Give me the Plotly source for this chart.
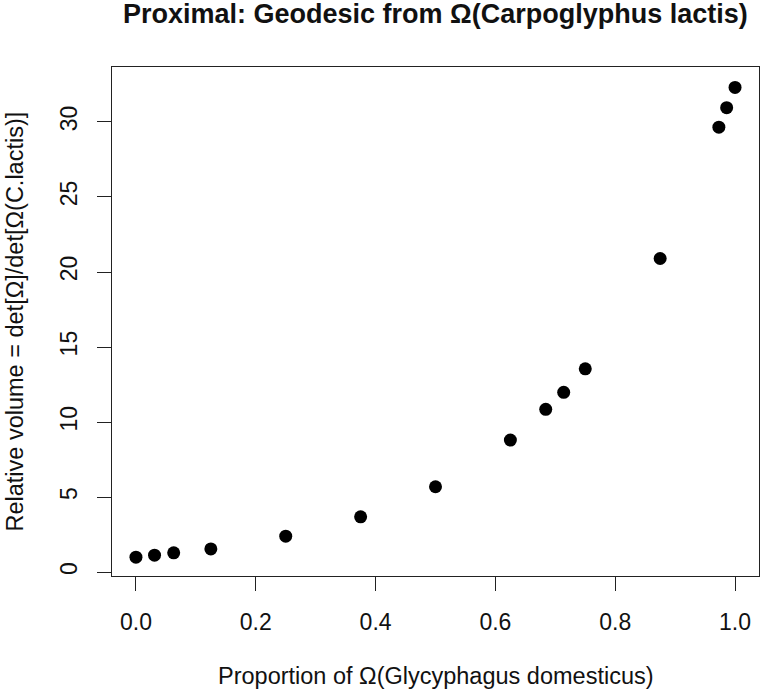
import plotly.graph_objects as go

# Data
proportion = [0.0, 0.031, 0.063, 0.125, 0.25, 0.375, 0.5, 0.625, 0.684, 0.714, 0.75, 0.875, 0.973, 0.986, 1.0]
rel_volume = [1.0, 1.13, 1.29, 1.55, 2.4, 3.69, 5.69, 8.8, 10.85, 11.98, 13.55, 20.9, 29.65, 30.95, 32.3]

x_ticks = [0.0, 0.2, 0.4, 0.6, 0.8, 1.0]
x_tick_labels = ["0.0", "0.2", "0.4", "0.6", "0.8", "1.0"]
y_ticks = [0, 5, 10, 15, 20, 25, 30]
y_tick_labels = ["0", "5", "10", "15", "20", "25", "30"]

title = "Proximal: Geodesic from Ω(Carpoglyphus lactis)"
x_title = "Proportion of Ω(Glycyphagus domesticus)"
y_title = "Relative volume = det[Ω]/det[Ω(C.lactis)]"

FONT = "Liberation Sans, Arial, Helvetica, sans-serif"

fig = go.Figure()
fig.add_trace(go.Scatter(
    x=proportion, y=rel_volume, mode="markers",
    marker=dict(size=13, color="black", line=dict(width=0)),
    showlegend=False, hoverinfo="x+y",
))

W, H = 766, 694
L, R, T, B = 111.5, 7, 67, 118

axis_common = dict(
    showgrid=False, zeroline=False, showline=True, mirror=True,
    linecolor="#222222", linewidth=1.2,
    ticks="outside", ticklen=14, tickwidth=1.2, tickcolor="#222222",
    tickfont=dict(family=FONT, size=23, color="#111111"),
)

fig.update_layout(
    width=W, height=H,
    margin=dict(l=L, r=R, t=T, b=B, pad=0),
    paper_bgcolor="white", plot_bgcolor="white",
    font=dict(family=FONT, color="#111111"),
    xaxis=dict(range=[-0.04, 1.04], tickvals=x_ticks, ticktext=x_tick_labels,
               ticklabelstandoff=11, **axis_common),
    yaxis=dict(range=[-0.256, 33.66], tickvals=y_ticks, ticktext=y_tick_labels,
               tickangle=-90, ticklabelstandoff=11, **axis_common),
    annotations=[
        dict(text="<b>" + title + "</b>", xref="paper", yref="paper", x=0.5, y=1,
             xanchor="center", yanchor="middle", yshift=53, showarrow=False,
             font=dict(family=FONT, size=27, color="#111111")),
        dict(text=x_title, xref="paper", yref="paper", x=0.5, y=0,
             xanchor="center", yanchor="middle", yshift=-100, showarrow=False,
             font=dict(family=FONT, size=23.5, color="#111111")),
        dict(text=y_title, xref="paper", yref="paper", x=0, y=0.5,
             xanchor="center", yanchor="middle", xshift=-98, textangle=-90,
             showarrow=False, font=dict(family=FONT, size=23.5, color="#111111")),
    ],
)

fig.write_html("out.html")
